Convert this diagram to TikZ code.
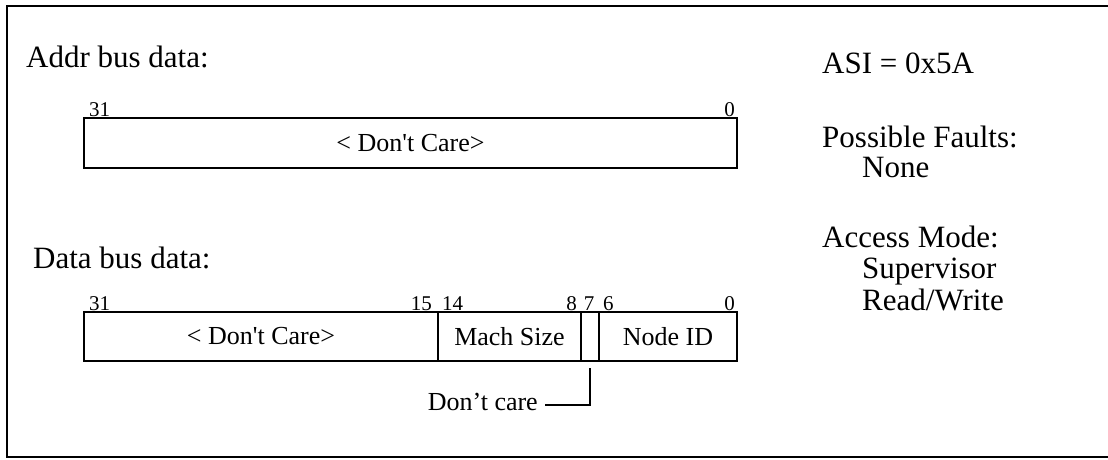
\documentclass[tikz,border=0pt]{standalone}
\usepackage{fontspec}
\newfontfamily\tms{Liberation Serif}
\begin{document}
\begin{tikzpicture}[x=1pt,y=-1pt,
  title/.style={font=\tms\fontsize{31}{36}\selectfont, inner sep=0pt},
  bitn/.style={font=\tms\fontsize{21}{24}\selectfont, inner sep=0pt},
  field/.style={draw, line width=2.4pt, inner sep=0pt, font=\tms\fontsize{26}{30}\selectfont},
  frame/.style={line width=2pt},
  leader/.style={line width=2pt}]
\useasboundingbox (0,0) rectangle (1108,459);
% frame
\draw[frame] (1108,6) -- (7,6) -- (7,457) -- (1108,457);
% titles
\node[title, anchor=base west] (addrt) at (26,67) {Addr bus data:};
\node[title, anchor=base west] (datat) at (33,268) {Data bus data:};
% address box
\node[field, minimum width=653pt, minimum height=50pt] (abox) at (410.5,143) {< Don't Care>};
\node[bitn, anchor=base west] (a31) at (89,116) {31};
\node[bitn, anchor=base east] (a0) at (735,116) {0};
% data box fields
\node[field, minimum width=354pt, minimum height=49pt] (f1) at (261,336.5) {< Don't Care>};
\node[field, minimum width=143pt, minimum height=49pt] (f2) at (509.5,336.5) {Mach Size};
\node[field, minimum width=18pt, minimum height=49pt] (f3) at (590,336.5) {};
\node[field, minimum width=138pt, minimum height=49pt] (f4) at (668,336.5) {Node ID};
\node[bitn, anchor=base west] (d31) at (89,310) {31};
\node[bitn, anchor=base east] (d15) at (432,310) {15};
\node[bitn, anchor=base west] (d14) at (442,310) {14};
\node[bitn, anchor=base east] (d8) at (577,310) {8};
\node[bitn, anchor=base] (d7) at (589,310) {7};
\node[bitn, anchor=base west] (d6) at (603,310) {6};
\node[bitn, anchor=base east] (d0) at (735,310) {0};
% don't care leader
\node[field, draw=none, anchor=base east] (dc) at (539,410) {Don’t care};
\coordinate (lt) at ([yshift=-6pt]f3.south);
\draw[leader] (lt) |- ([xshift=6pt,yshift=5pt]dc.base east);
% right column
\node[title, anchor=base west] (asi) at (822,73) {ASI = 0x5A};
\node[title, anchor=base west] (pf) at (822,147) {Possible Faults:};
\node[title, anchor=base west] (none) at (862,177) {None};
\node[title, anchor=base west] (am) at (822,247) {Access Mode:};
\node[title, anchor=base west] (sup) at (862,278) {Supervisor};
\node[title, anchor=base west] (rw) at (862,310) {Read/Write};
\end{tikzpicture}
\end{document}
